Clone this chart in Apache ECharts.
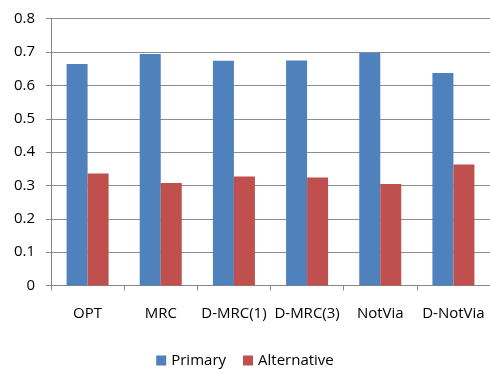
<!DOCTYPE html>
<html>
<head>
<meta charset="utf-8">
<script src="https://cdn.jsdelivr.net/npm/echarts@6/dist/echarts.min.js"></script>
<style>
  html, body { margin: 0; padding: 0; background: #fff; }
  #chart { width: 490px; height: 369px; }
</style>
</head>
<body>
<div id="chart"></div>
<script>
// Schemes compared on the x axis
const categories = ['OPT', 'MRC', 'D-MRC(1)', 'D-MRC(3)', 'NotVia', 'D-NotVia'];
// Share of traffic on primary vs. alternative paths
const primaryValues = [0.664, 0.694, 0.674, 0.675, 0.698, 0.637];
const alternativeValues = [0.336, 0.307, 0.327, 0.324, 0.304, 0.363];
const yTicks = { min: 0, max: 0.8, interval: 0.1 };

const fontFamily = '"Open Sans", "Liberation Sans", sans-serif';
const chart = echarts.init(document.getElementById('chart'), null, { renderer: 'canvas' });

chart.setOption({
  animation: false,
  backgroundColor: '#ffffff',
  grid: { left: 51, right: 0, top: 18.7, bottom: 83.5, containLabel: false },
  legend: {
    top: 348,
    left: 'center',
    itemWidth: 10,
    itemHeight: 10,
    itemGap: 17,
    icon: 'rect',
    textStyle: { fontFamily, fontSize: 15, color: '#000' },
    data: ['Primary', 'Alternative']
  },
  xAxis: {
    type: 'category',
    data: categories,
    axisLine: { lineStyle: { color: '#868686', width: 1 } },
    axisTick: { show: true, length: 5, alignWithLabel: false, lineStyle: { color: '#868686' } },
    axisLabel: { margin: 21, fontFamily, fontSize: 15, color: '#000', interval: 0 }
  },
  yAxis: {
    type: 'value',
    min: yTicks.min,
    max: yTicks.max,
    interval: yTicks.interval,
    axisLine: { show: true, lineStyle: { color: '#868686', width: 1 } },
    axisTick: { show: true, length: 5, lineStyle: { color: '#868686' } },
    axisLabel: {
      margin: 16, fontFamily, fontSize: 15, color: '#000',
      formatter: v => (Math.round(v * 10) / 10).toString()
    },
    splitLine: { show: true, lineStyle: { color: '#8c8c8c', width: 1 } }
  },
  series: [
    {
      name: 'Primary',
      type: 'bar',
      data: primaryValues,
      barWidth: 21,
      barGap: '0%',
      itemStyle: { color: '#4F81BD' }
    },
    {
      name: 'Alternative',
      type: 'bar',
      data: alternativeValues,
      barWidth: 21,
      barGap: '0%',
      itemStyle: { color: '#C0504D' }
    }
  ]
});
</script>
</body>
</html>
